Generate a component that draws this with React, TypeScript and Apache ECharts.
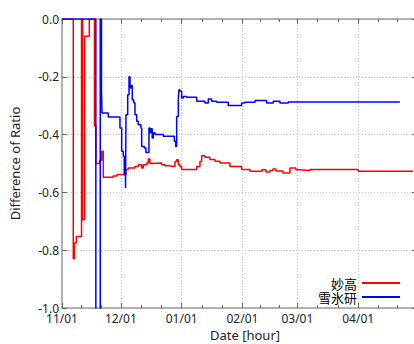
import React, { useEffect, useRef } from 'react';
import * as echarts from 'echarts';

const xMin = '2013-11-01 00:00';
const xMax = '2014-05-01 00:00';
const yMin = -1.0;
const yMax = 0.0;
const yStep = 0.2;

const seriesNames = ['妙高', '雪氷研'];
const seriesColors = ['#ff0000', '#0000ff'];

const myokoTimes = [
  '2013-11-01 00:00', '2013-11-06 18:00', '2013-11-07 06:00', '2013-11-08 07:00', '2013-11-10 23:00',
  '2013-11-11 11:00', '2013-11-12 11:00', '2013-11-14 22:00', '2013-11-17 13:00', '2013-11-18 08:00',
  '2013-11-20 03:00', '2013-11-21 06:00', '2013-11-22 01:00', '2013-11-27 00:00', '2013-11-29 01:00',
  '2013-12-01 10:00', '2013-12-03 15:00', '2013-12-04 19:00', '2013-12-08 05:00', '2013-12-09 21:00',
  '2013-12-11 15:00', '2013-12-12 11:00', '2013-12-14 04:00', '2013-12-15 00:00', '2013-12-15 20:00',
  '2013-12-16 17:00', '2013-12-21 20:00', '2013-12-23 12:00', '2013-12-25 04:00', '2013-12-28 14:00',
  '2013-12-29 11:00', '2013-12-30 07:00', '2013-12-31 03:00', '2014-01-01 00:00', '2014-01-08 16:00',
  '2014-01-10 08:00', '2014-01-11 05:00', '2014-01-12 21:00', '2014-01-15 10:00', '2014-01-18 00:00',
  '2014-01-20 13:00', '2014-01-25 15:00', '2014-01-31 14:00', '2014-02-04 20:00', '2014-02-10 23:00',
  '2014-02-13 00:00', '2014-02-15 00:00', '2014-02-16 13:00', '2014-02-18 02:00', '2014-02-21 15:00',
  '2014-02-25 05:00', '2014-02-28 06:00', '2014-03-02 07:00', '2014-03-07 10:00', '2014-04-01 00:00',
  '2014-04-28 22:00',
];
const myokoValues = [
  0, -0.83, -0.775, -0.753, 0,
  -0.695, -0.06, 0, -0.37, -0.5,
  -0.49, -0.458, -0.548, -0.543, -0.538,
  -0.539, -0.521, -0.516, -0.51, -0.504,
  -0.516, -0.504, -0.498, -0.484, -0.5,
  -0.498, -0.504, -0.508, -0.51, -0.493,
  -0.487, -0.504, -0.51, -0.521, -0.51,
  -0.493, -0.473, -0.478, -0.486, -0.492,
  -0.498, -0.51, -0.521, -0.527, -0.522,
  -0.529, -0.524, -0.519, -0.526, -0.533,
  -0.516, -0.522, -0.524, -0.521, -0.527,
  -0.527,
];

const seppyoTimes = [
  '2013-11-01 00:00', '2013-11-18 06:00', '2013-11-20 12:00', '2013-11-21 03:00', '2013-11-21 09:00',
  '2013-11-24 14:00', '2013-11-30 13:00', '2013-12-01 10:00', '2013-12-02 06:00', '2013-12-02 18:00',
  '2013-12-03 09:00', '2013-12-03 15:00', '2013-12-04 12:00', '2013-12-05 04:00', '2013-12-05 16:00',
  '2013-12-06 04:00', '2013-12-06 20:00', '2013-12-07 13:00', '2013-12-08 05:00', '2013-12-09 02:00',
  '2013-12-09 21:00', '2013-12-11 06:00', '2013-12-11 15:00', '2013-12-12 23:00', '2013-12-13 19:00',
  '2013-12-15 08:00', '2013-12-15 20:00', '2013-12-16 09:00', '2013-12-17 00:00', '2013-12-17 13:00',
  '2013-12-18 10:00', '2013-12-22 15:00', '2013-12-28 06:00', '2013-12-28 23:00', '2013-12-29 11:00',
  '2013-12-30 07:00', '2013-12-30 15:00', '2013-12-31 03:00', '2014-01-01 00:00', '2014-01-01 20:00',
  '2014-01-03 13:00', '2014-01-08 16:00', '2014-01-12 21:00', '2014-01-14 14:00', '2014-01-16 07:00',
  '2014-01-18 20:00', '2014-01-24 18:00', '2014-01-31 14:00', '2014-02-02 06:00', '2014-02-07 09:00',
  '2014-02-13 08:00', '2014-02-16 17:00', '2014-02-20 03:00', '2014-02-24 08:00', '2014-04-22 06:00',
];
const seppyoValues = [
  0, -1.05, 0, -0.245, -0.325,
  -0.339, -0.377, -0.458, -0.475, -0.539,
  -0.585, -0.331, -0.262, -0.2, -0.239,
  -0.23, -0.279, -0.29, -0.331, -0.354,
  -0.366, -0.377, -0.441, -0.446, -0.462,
  -0.377, -0.394, -0.38, -0.412, -0.394,
  -0.4, -0.406, -0.423, -0.441, -0.337,
  -0.279, -0.245, -0.25, -0.273, -0.268,
  -0.271, -0.285, -0.291, -0.277, -0.285,
  -0.288, -0.299, -0.291, -0.288, -0.282,
  -0.291, -0.285, -0.291, -0.287, -0.287,
];

const DAY = 86400000;
const axisGray = '#9a9a9a';
const tickGray = '#666';
const gridGray = '#c8c8c8';
const latinFont = '"Noto Sans", "Open Sans", sans-serif';
const cjkFont = '"Noto Sans CJK JP", "Noto Sans", sans-serif';

const pad2 = (n: number) => (n < 10 ? '0' + n : '' + n);

export default function App() {
  const ref = useRef<HTMLDivElement>(null);
  useEffect(() => {
    if (!ref.current) return;
    const chart = echarts.init(ref.current, null, { renderer: 'svg' });
    const maxTs = echarts.time.parse(xMax).getTime();
    const dateLabel = (v: number) => {
      if (v >= maxTs - 1000) return '';
      const d = new Date(v);
      return pad2(d.getMonth() + 1) + '/' + pad2(d.getDate());
    };
    const timeAxisBase = {
      type: 'time',
      min: xMin,
      max: xMax,
      minInterval: 28 * DAY,
      maxInterval: 31 * DAY,
      splitNumber: 6,
      axisLine: { show: true, onZero: false, lineStyle: { color: axisGray, width: 1.5 } },
      axisTick: { show: true, inside: true, length: 5, lineStyle: { color: tickGray } },
      minorTick: { show: true, splitNumber: 3, length: 3, lineStyle: { color: tickGray } },
    };
    const valueAxisBase = {
      type: 'value',
      min: yMin,
      max: yMax,
      interval: yStep,
      axisLine: { show: true, onZero: false, lineStyle: { color: axisGray, width: 1.5 } },
      axisTick: { show: true, inside: true, length: 5, lineStyle: { color: tickGray } },
    };
    chart.setOption({
      animation: false,
      backgroundColor: '#ffffff',
      grid: { left: 62, top: 19, width: 355, height: 289, containLabel: false, outerBoundsMode: 'none' },
      legend: {
        orient: 'vertical',
        align: 'right',
        right: 14,
        top: 276,
        padding: 0,
        itemGap: 0,
        itemWidth: 38,
        itemHeight: 2,
        icon: 'rect',
        selectedMode: false,
        textStyle: { fontFamily: cjkFont, fontSize: 13, color: '#000', lineHeight: 14 },
        data: seriesNames,
      },
      xAxis: [
        {
          ...timeAxisBase,
          position: 'bottom',
          axisLabel: {
            formatter: dateLabel,
            fontFamily: latinFont,
            fontSize: 12,
            color: '#222',
            margin: 4,
            hideOverlap: false,
          },
          splitLine: { show: true, lineStyle: { type: [1, 2], color: gridGray, width: 1 } },
          name: 'Date [hour]',
          nameLocation: 'middle',
          nameGap: 20,
          nameTextStyle: { fontFamily: latinFont, fontSize: 13, color: '#222', padding: [0, 0, 0, 11] },
        },
        {
          ...timeAxisBase,
          position: 'top',
          axisLabel: { show: false },
          splitLine: { show: false },
        },
      ],
      yAxis: [
        {
          ...valueAxisBase,
          position: 'left',
          axisLabel: {
            formatter: (v: number) => (Math.abs(v) < 1e-9 ? '0.0' : v.toFixed(1)),
            fontFamily: latinFont,
            fontSize: 12,
            color: '#222',
            margin: 3,
          },
          splitLine: { show: true, lineStyle: { type: [1, 2], color: gridGray, width: 1 } },
          name: 'Difference of Ratio',
          nameLocation: 'middle',
          nameGap: 41,
          nameTextStyle: { fontFamily: latinFont, fontSize: 13, color: '#222' },
        },
        {
          ...valueAxisBase,
          position: 'right',
          axisLabel: { show: false },
          splitLine: { show: false },
        },
      ],
      series: [
        {
          name: seriesNames[0],
          type: 'line',
          step: 'end',
          showSymbol: false,
          color: seriesColors[0],
          lineStyle: { width: 1.5, color: seriesColors[0] },
          data: myokoTimes.map((t, i) => [t, myokoValues[i]]),
        },
        {
          name: seriesNames[1],
          type: 'line',
          step: 'end',
          showSymbol: false,
          color: seriesColors[1],
          lineStyle: { width: 1.5, color: seriesColors[1] },
          data: seppyoTimes.map((t, i) => [t, seppyoValues[i]]),
        },
      ],
    } as any);
    return () => chart.dispose();
  }, []);
  return (
    <div
      ref={ref}
      style={{ position: 'fixed', left: 0, top: 0, width: 414, height: 344, background: '#fff' }}
    />
  );
}
